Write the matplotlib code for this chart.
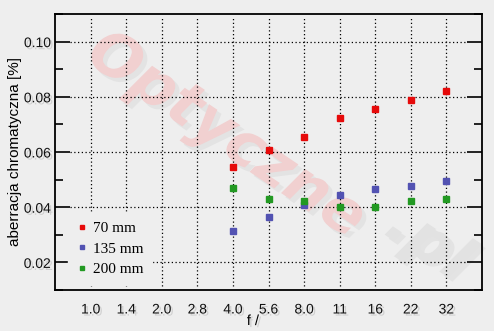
import matplotlib
matplotlib.use("Agg")
import matplotlib.pyplot as plt
import matplotlib.patheffects as pe
from matplotlib.ticker import MultipleLocator
from matplotlib.lines import Line2D

f_labels = ["1.0", "1.4", "2.0", "2.8", "4.0", "5.6", "8.0", "11", "16", "22", "32"]
measured_labels = ["4.0", "5.6", "8.0", "11", "16", "22", "32"]
series_names = ["70 mm", "135 mm", "200 mm"]
ca_70 = [0.0545, 0.0607, 0.0654, 0.0724, 0.0757, 0.0789, 0.0822]
ca_135 = [0.0315, 0.0366, 0.0408, 0.0446, 0.0465, 0.0476, 0.0494]
ca_200 = [0.0468, 0.0428, 0.0424, 0.0400, 0.0400, 0.0421, 0.0428]
y_major = [0.02, 0.04, 0.06, 0.08, 0.10]

colors = ["#e60a0a", "#5252b2", "#229922"]
bg = "#eeeeee"

fig = plt.figure(figsize=(4.94, 3.31), dpi=100, facecolor=bg)
ax = fig.add_axes([55/494, 1-290/331, (482-55)/494, (290-14)/331])
ax.set_facecolor(bg)

shadow = [pe.withSimplePatchShadow(offset=(1.5, -1.5), shadow_rgbFace="#999999", alpha=0.35)]
wm_shadow = [pe.withSimplePatchShadow(offset=(3, -3), shadow_rgbFace="#c4c4c4", alpha=0.25)]

# watermark (behind grid and markers)
ax.text(226/494, 1-136/331, "Optyczne", rotation=-34, fontsize=44, fontweight="heavy",
        style="italic", color="#f1d0d0", ha="center", va="center", transform=fig.transFigure,
        family="DejaVu Sans", zorder=0.5, clip_on=False, path_effects=wm_shadow)
ax.text(428/494, 1-244/331, ".pl", rotation=-34, fontsize=44, fontweight="heavy",
        style="italic", color="#e2e2e2", ha="center", va="center", transform=fig.transFigure,
        family="DejaVu Sans", zorder=0.5, clip_on=False, path_effects=wm_shadow)

xpos = {lab: i for i, lab in enumerate(f_labels)}
data = [ca_70, ca_135, ca_200]
for vals, c, name in zip(data, colors, series_names):
    xs = [xpos[l] for l in measured_labels]
    ax.plot(xs, vals, ls="none", marker="s", ms=4.0, mfc=c, mec=c, label=name, zorder=5)

ax.set_xlim(-1, 11)
ax.set_ylim(0.01, 0.11)

# grid
for i in range(len(f_labels)):
    ax.plot([i, i], [0.0113, 0.1085], color="black", lw=0.9, ls=(0, (1, 2)), zorder=1)
for y in y_major:
    ax.plot([-0.58, 10.58], [y, y], color="black", lw=0.9, ls=(0, (1, 2)), zorder=1)

ax.set_xticks(range(len(f_labels)))
ax.set_xticklabels(f_labels)
ax.set_yticks(y_major)
ax.set_yticklabels([f"{v:.2f}" for v in y_major])
ax.yaxis.set_minor_locator(MultipleLocator(0.01))
ax.tick_params(axis="x", length=0, pad=9, labelsize=10)
ax.tick_params(axis="y", which="major", direction="in", length=11, width=1.2, right=True, labelsize=10, pad=3)
ax.tick_params(axis="y", which="minor", direction="in", length=6, width=1.2, right=True)
for lab in ax.get_xticklabels() + ax.get_yticklabels():
    lab.set_family("Liberation Sans")
    lab.set_color("#111111")
    lab.set_path_effects(shadow)

for s in ax.spines.values():
    s.set_linewidth(1.3)
    s.set_zorder(7)

ax.set_ylabel("aberracja chromatyczna [%]", family="Liberation Sans", fontsize=11, labelpad=1)
fig.text(253/494, 1-321/331, "f /", family="Liberation Sans", fontsize=10.5, ha="center", va="center",
         path_effects=shadow)

handles = [Line2D([], [], ls="none", marker="s", ms=3.2, mfc=c, mec=c) for c in colors]
leg = ax.legend(handles, series_names, loc="lower left", bbox_to_anchor=(0.02, 0.0),
                frameon=True, facecolor=bg, edgecolor=bg, framealpha=1,
                prop={"family": "Liberation Serif", "size": 11}, handlelength=0.6,
                handletextpad=0.4, labelspacing=0.45, borderpad=0.6, borderaxespad=0.3,
                fancybox=False)
leg.set_zorder(6)

fig.savefig("out.png", dpi=100, facecolor=bg)
